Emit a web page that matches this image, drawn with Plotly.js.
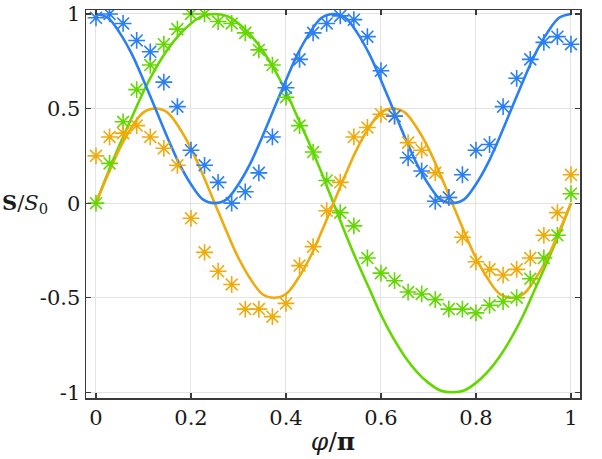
<!DOCTYPE html>
<html>
<head>
<meta charset="utf-8">
<script src="https://cdn.plot.ly/plotly-3.0.1.min.js"></script>
<style>html,body{margin:0;padding:0;background:#fff;}#chart{width:602px;height:459px;}</style>
</head>
<body>
<div id="chart"></div>
<script>
// Measured points: phi/pi = k/35, k = 0..35
const measX = [0,0.0286,0.0571,0.0857,0.1143,0.1429,0.1714,0.2,0.2286,0.2571,0.2857,0.3143,0.3429,0.3714,0.4,0.4286,0.4571,0.4857,0.5143,0.5429,0.5714,0.6,0.6286,0.6571,0.6857,0.7143,0.7429,0.7714,0.8,0.8286,0.8571,0.8857,0.9143,0.9429,0.9714,1];
const measBlue = [0.98,1.00,0.95,0.86,0.80,0.64,0.51,0.28,0.20,0.11,0.00,0.06,0.16,0.35,0.61,0.76,0.90,0.95,0.99,0.97,0.88,0.70,0.46,0.24,0.17,0.01,0.03,0.15,0.28,0.31,0.51,0.66,0.76,0.85,0.88,0.84];
const measOrange = [0.25,0.35,0.37,0.41,0.35,0.29,0.20,-0.08,-0.26,-0.36,-0.43,-0.56,-0.56,-0.60,-0.53,-0.33,-0.23,-0.04,0.11,0.35,0.40,0.47,0.46,0.32,0.28,0.16,0.03,-0.18,-0.31,-0.35,-0.38,-0.35,-0.29,-0.17,-0.05,0.15];
const measGreen = [0.00,0.21,0.43,0.60,0.73,0.84,0.92,1.00,1.00,0.96,0.95,0.90,0.81,0.73,0.56,0.41,0.27,0.12,-0.05,-0.12,-0.29,-0.37,-0.41,-0.47,-0.48,-0.51,-0.56,-0.56,-0.58,-0.54,-0.52,-0.50,-0.40,-0.29,-0.17,0.05];

// Theory curves read at phi/pi = 0, 0.025, ..., 1
const curveX = [0,0.025,0.05,0.075,0.1,0.125,0.15,0.175,0.2,0.225,0.25,0.275,0.3,0.325,0.35,0.375,0.4,0.425,0.45,0.475,0.5,0.525,0.55,0.575,0.6,0.625,0.65,0.675,0.7,0.725,0.75,0.775,0.8,0.825,0.85,0.875,0.9,0.925,0.95,0.975,1];
const curveBlue = [1.00,0.98,0.90,0.79,0.65,0.50,0.35,0.21,0.10,0.02,0.00,0.02,0.10,0.21,0.35,0.50,0.65,0.79,0.90,0.98,1.00,0.98,0.90,0.79,0.65,0.50,0.35,0.21,0.10,0.02,0.00,0.02,0.10,0.21,0.35,0.50,0.65,0.79,0.90,0.98,1.00];
const curveOrange = [0.00,0.15,0.29,0.40,0.48,0.50,0.48,0.40,0.29,0.15,0.00,-0.15,-0.29,-0.40,-0.48,-0.50,-0.48,-0.40,-0.29,-0.15,0.00,0.15,0.29,0.40,0.48,0.50,0.48,0.40,0.29,0.15,0.00,-0.15,-0.29,-0.40,-0.48,-0.50,-0.48,-0.40,-0.29,-0.15,0.00];
const curveGreen = [0.00,0.16,0.31,0.45,0.59,0.71,0.81,0.89,0.95,0.99,1.00,0.99,0.95,0.89,0.81,0.71,0.59,0.45,0.31,0.16,0.00,-0.16,-0.31,-0.45,-0.59,-0.71,-0.81,-0.89,-0.95,-0.99,-1.00,-0.99,-0.95,-0.89,-0.81,-0.71,-0.59,-0.45,-0.31,-0.16,0.00];

const xTickVals = [0,0.2,0.4,0.6,0.8,1];
const xTickText = ['0','0.2','0.4','0.6','0.8','1'];
const yTickVals = [-1,-0.5,0,0.5,1];
const yTickText = ['-1','-0.5','0','0.5','1'];

const cBlue = '#2a7ff5';
const cOrange = '#efab0c';
const cGreen = '#63d800';

function lineTrace(y, c){
  return {x: curveX, y: y, mode:'lines', line:{color:c, width:2.6, shape:'spline', smoothing:1}, hoverinfo:'skip', showlegend:false};
}
function markTrace(y, c){
  return {x: measX, y: y, mode:'markers', marker:{symbol:'asterisk-open', size:14, color:c, line:{color:c, width:1.6}}, showlegend:false};
}

const data = [
  lineTrace(curveGreen, cGreen),
  lineTrace(curveOrange, cOrange),
  lineTrace(curveBlue, cBlue),
  markTrace(measGreen, cGreen),
  markTrace(measOrange, cOrange),
  markTrace(measBlue, cBlue)
];

const SERIF = 'DejaVu Serif';
const tickF = {family:SERIF, size:21, color:'#1a1a1a'};

const layout = {
  width:602, height:459,
  margin:{l:86, r:22, t:10, b:61},
  paper_bgcolor:'#fff', plot_bgcolor:'#fff',
  font:{family:SERIF, size:21, color:'#1a1a1a'},
  xaxis:{
    range:[-0.021,1.019], tickvals:xTickVals, ticktext:xTickText,
    showgrid:true, gridcolor:'#e3e3e3', gridwidth:1, zeroline:false,
    showline:true, linecolor:'#3a3a3a', linewidth:1.5, mirror:'ticks',
    ticks:'inside', ticklen:5, tickwidth:1.2, tickcolor:'#3a3a3a',
    tickfont:tickF,
    title:{text:'<i>φ</i>/<b>π</b>', font:{family:SERIF, size:25, color:'#1a1a1a'}, standoff:4}
  },
  yaxis:{
    range:[-1.03,1.021], tickvals:yTickVals, ticktext:yTickText,
    showgrid:true, gridcolor:'#e3e3e3', gridwidth:1, zeroline:false,
    showline:true, linecolor:'#3a3a3a', linewidth:1.5, mirror:'ticks',
    ticks:'inside', ticklen:5, tickwidth:1.2, tickcolor:'#3a3a3a',
    tickfont:tickF
  },
  annotations:[{
    xref:'paper', yref:'y', x:-0.124, y:0, xanchor:'center', yanchor:'middle',
    text:'<b>S</b>/<i>S</i><sub>0</sub>', showarrow:false,
    font:{family:SERIF, size:21, color:'#1a1a1a'}
  }]
};

Plotly.newPlot('chart', data, layout, {displayModeBar:false, staticPlot:true});
</script>
</body>
</html>
